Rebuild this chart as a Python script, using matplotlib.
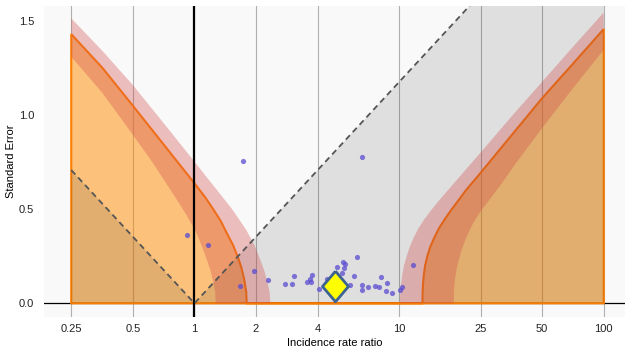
import matplotlib.pyplot as plt
import numpy as np
from matplotlib.ticker import NullLocator

plt.rcParams['font.family'] = ['Liberation Sans', 'DejaVu Sans']

# axis ticks
rr_ticks = [0.25, 0.5, 1, 2, 4, 10, 25, 50, 100]
rr_tick_labels = ["0.25", "0.5", "1", "2", "4", "10", "25", "50", "100"]
se_ticks = [0.0, 0.5, 1.0, 1.5]

# individual studies: incidence rate ratio and standard error
study_rr = [0.92, 1.16, 1.73, 1.67, 1.95, 2.28, 2.78, 3.00, 3.08, 3.56, 3.65, 3.74,
            3.71, 4.07, 4.42, 4.95, 5.29, 5.41, 5.38, 5.28, 5.76, 6.00, 6.25, 6.61,
            6.57, 6.61, 7.08, 7.66, 7.94, 8.14, 8.76, 8.66, 9.27, 10.1, 10.3, 11.7]
study_se = [0.363, 0.308, 0.757, 0.090, 0.171, 0.122, 0.101, 0.102, 0.145, 0.115, 0.129, 0.152,
            0.111, 0.076, 0.129, 0.193, 0.218, 0.209, 0.190, 0.161, 0.097, 0.144, 0.245, 0.775,
            0.096, 0.071, 0.087, 0.092, 0.085, 0.141, 0.109, 0.064, 0.057, 0.073, 0.088, 0.201]

# pooled estimate
pooled_rr = 4.84
pooled_se = 0.09

# contours: left side, line and its band
left_se = [0.0, 0.06, 0.124, 0.19, 0.247, 0.31, 0.372, 0.435, 0.495, 0.565, 0.637, 0.84, 1.049, 1.25, 1.429]
left_rr = [1.80, 1.79, 1.753, 1.695, 1.628, 1.542, 1.44, 1.347, 1.243, 1.125, 1.0, 0.711, 0.5, 0.355, 0.25]
left_outer_se = [0.0, 0.06, 0.106, 0.17, 0.23, 0.31, 0.389, 0.50, 0.619, 0.752, 0.95, 1.159, 1.34, 1.513]
left_outer_rr = [2.35, 2.33, 2.28, 2.20, 2.10, 1.962, 1.793, 1.528, 1.251, 1.0, 0.715, 0.5, 0.355, 0.25]
left_inner_se = [0.0, 0.06, 0.106, 0.17, 0.23, 0.30, 0.372, 0.47, 0.566, 0.74, 0.92, 1.12, 1.309]
left_inner_rr = [1.27, 1.263, 1.24, 1.20, 1.15, 1.09, 1.024, 0.913, 0.802, 0.631, 0.481, 0.353, 0.25]

# right side
right_se = [0.0, 0.05, 0.1, 0.15, 0.2, 0.25, 0.3, 0.35, 0.4, 0.45, 0.5, 0.55, 0.6, 0.69,
            0.89, 1.088, 1.27, 1.456]
right_rr = [13.0, 13.02, 13.08, 13.2, 13.4, 13.73, 14.2, 14.88, 15.7, 16.8, 18.1, 19.6, 21.2, 24.9,
            35.3, 49.9, 70.5, 100]
right_outer_se = [0.0, 0.05, 0.1, 0.15, 0.2, 0.25, 0.3, 0.35, 0.4, 0.45, 0.5, 0.55, 0.6, 0.7,
                  0.8, 0.99, 1.176, 1.36, 1.544]
right_outer_rr = [10.1, 10.13, 10.22, 10.36, 10.56, 10.89, 11.27, 11.8, 12.46, 13.36, 14.48, 15.8, 17.3, 20.8,
                  25.0, 35.3, 50, 70.5, 100]
right_inner_se = [0.0, 0.07, 0.14, 0.21, 0.283, 0.35, 0.425, 0.49, 0.548, 0.64, 0.74, 0.93, 1.14, 1.346]
right_inner_rr = [18.5, 18.54, 18.8, 19.35, 20.2, 21.3, 23.0, 25.1, 27.6, 31.9, 37.0, 50, 70.5, 100]

z = 1.96

fig = plt.figure(figsize=(6.25, 3.49), dpi=100)
ax = fig.add_axes([0.0704, 0.0926, 0.9296, 0.890])
ax.set_facecolor('#f9f9f9')
ax.set_xscale('log')
ax.set_xlim(0.184, 127)
ax.set_ylim(-0.071, 1.578)

rr_min, rr_max = rr_ticks[0], rr_ticks[-1]
se_top = 1.7

# orange area below the contour
ox = [rr_min] + left_rr[::-1] + right_rr + [rr_max]
oy = [0] + left_se[::-1] + right_se + [0]
ax.fill(ox, oy, facecolor=(1.0, 0.55, 0.0, 0.5), edgecolor='#ff8000', lw=1.5, zorder=2)

# significance region (grey)
ax.fill([1, np.exp(z * se_top), rr_max, rr_max], [0, se_top, se_top, 0],
        color='k', alpha=0.1, lw=0, zorder=3)
ax.fill([rr_min, rr_min, 1], [0, np.log(1 / rr_min) / z, 0],
        color='k', alpha=0.1, lw=0, zorder=3)

# uncertainty bands around contours
band_color = (0.82, 0.31, 0.31)
ax.fill(left_outer_rr + left_inner_rr[::-1], left_outer_se + left_inner_se[::-1],
        color=band_color, alpha=0.35, lw=0, zorder=4)
ax.fill(right_outer_rr + right_inner_rr[::-1], right_outer_se + right_inner_se[::-1],
        color=band_color, alpha=0.35, lw=0, zorder=4)

# reference lines
ax.axhline(0, color='k', lw=0.9, zorder=1.8)
ax.axvline(1, color='k', lw=1.6, zorder=5)
ax.plot([rr_min, 1, np.exp(z * se_top)], [np.log(1 / rr_min) / z, 0, se_top],
        ls=(0, (3.3, 2.3)), color='#555555', lw=1.3, zorder=6)

# studies and pooled estimate
ax.scatter(study_rr, study_se, s=14, color='#5a4bd1', alpha=0.75, lw=0, zorder=7)
ax.plot(pooled_rr, pooled_se, ls='none',
        marker=[(0, 1), (0.85, 0), (0, -1), (-0.85, 0), (0, 1)],
        ms=22, mfc='#ffff00', mec='#3d6491', mew=2, zorder=8)

# axes styling
ax.set_xticks(rr_ticks)
ax.set_xticklabels(rr_tick_labels)
ax.xaxis.set_minor_locator(NullLocator())
ax.set_yticks(se_ticks)
ax.grid(True, axis='x', color='#b0b0b0', lw=0.8)
ax.set_axisbelow(True)
ax.tick_params(axis='x', length=0, labelsize=8, pad=5, labelcolor='#222222')
ax.tick_params(axis='y', length=0, labelsize=8, pad=7, labelcolor='#222222')
for s in ax.spines.values():
    s.set_visible(False)

ax.set_xlabel('Incidence rate ratio', fontsize=8, labelpad=3)
ax.set_ylabel('Standard Error', fontsize=8, labelpad=2)

fig.savefig('out.png', dpi=100)
